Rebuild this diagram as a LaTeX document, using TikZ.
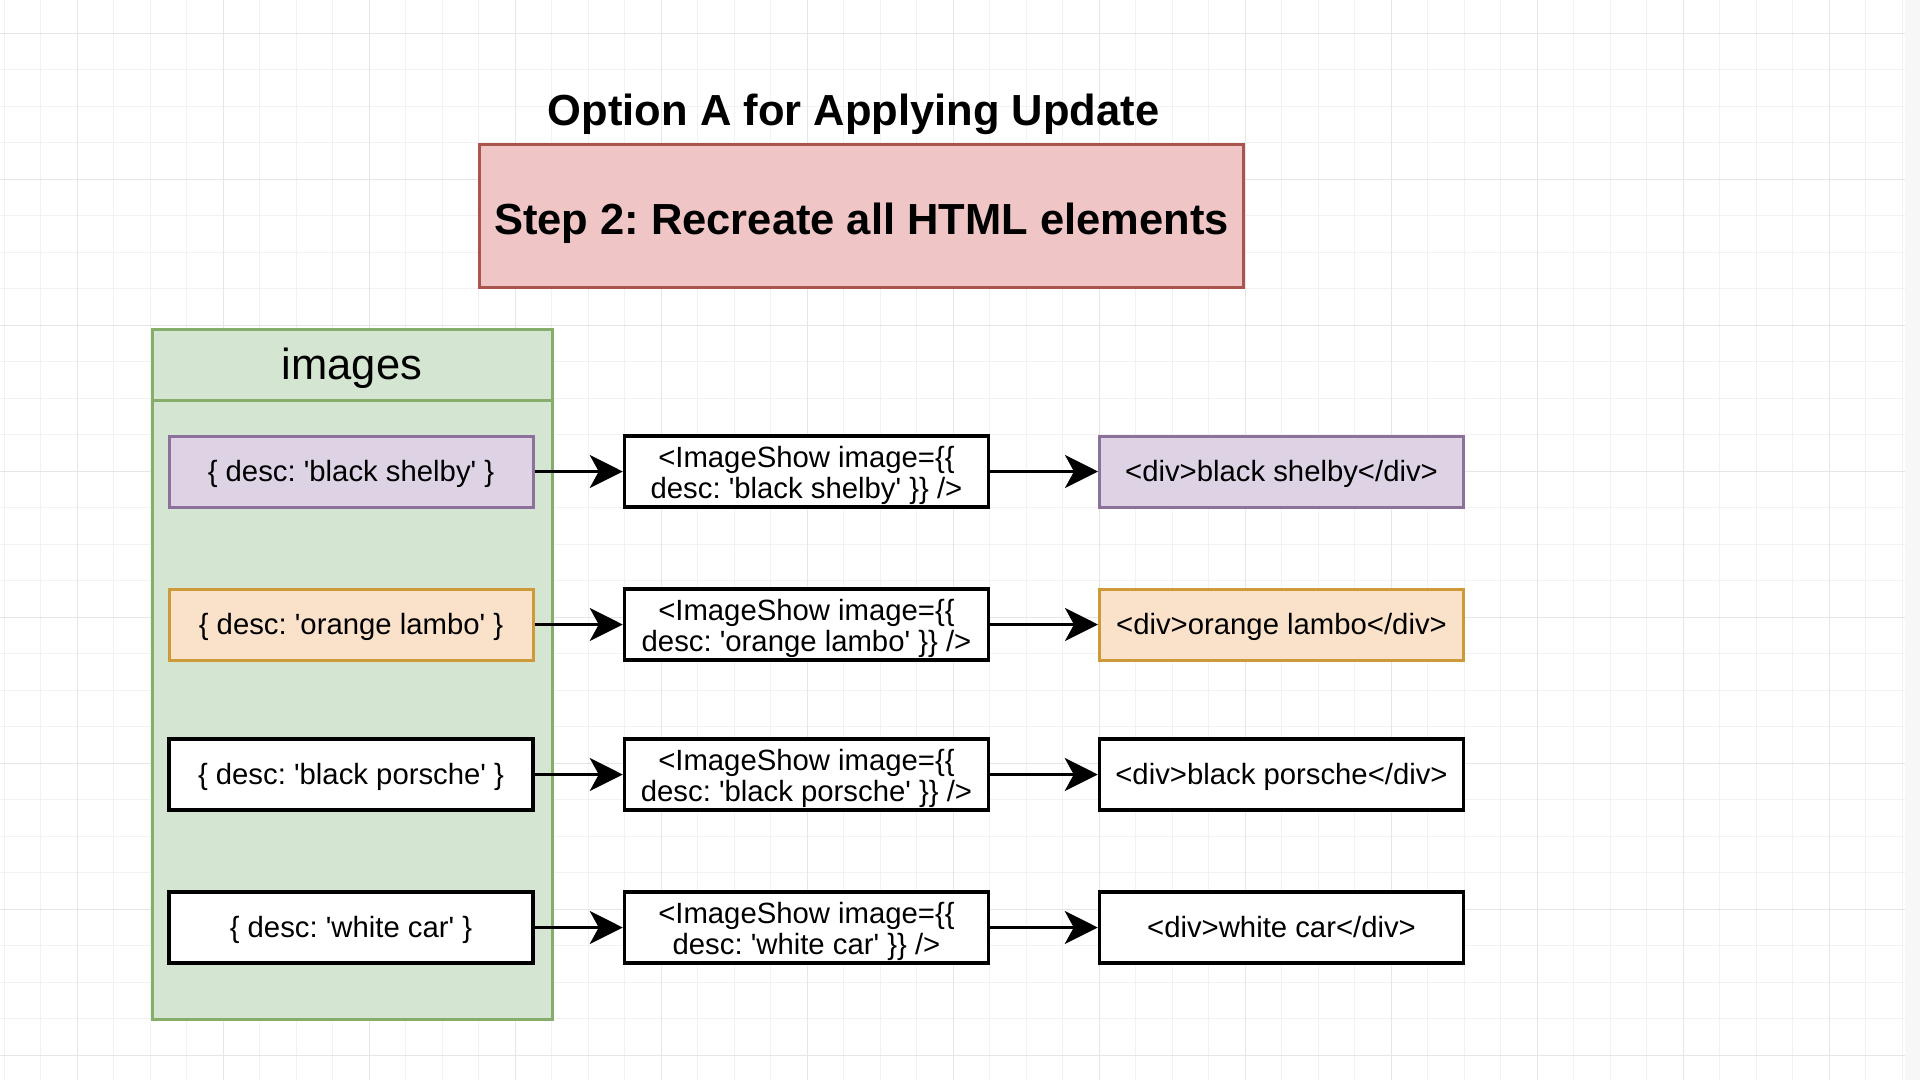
\documentclass[tikz,border=0pt]{standalone}
\usepackage{fontspec}
\setmainfont{Liberation Sans}[Ligatures=TeXOff]
\usetikzlibrary{arrows.meta}
\frenchspacing
\definecolor{gridminor}{HTML}{F2F2F2}
\definecolor{gridmajor}{HTML}{E6E6E6}
\definecolor{redF}{HTML}{EFC6C5}
\definecolor{redS}{HTML}{AA544E}
\definecolor{greenF}{HTML}{D4E6D1}
\definecolor{greenS}{HTML}{86AE6A}
\definecolor{purpF}{HTML}{DDD3E5}
\definecolor{purpS}{HTML}{8D719D}
\definecolor{oranF}{HTML}{FAE2CA}
\definecolor{oranS}{HTML}{CE9938}
\tikzset{
  bigfont/.style={font=\frenchspacing\fontsize{43.5}{50}\selectfont},
  boldbig/.style={font=\frenchspacing\bfseries\fontsize{43.5}{50}\selectfont},
  cell/.style={draw, line width=3pt, minimum width=364pt, minimum height=71pt,
    inner sep=0pt, align=center, font=\frenchspacing\fontsize{29.3}{31}\selectfont},
  oneline/.style={text height=26.5pt, text depth=6.2pt},
  twoline/.style={text height=60pt, text depth=6pt},
  plaincell/.style={cell, draw=black, fill=white, line width=3.5pt},
  purpcell/.style={cell, draw=purpS, fill=purpF},
  orancell/.style={cell, draw=oranS, fill=oranF},
  conn/.style={line width=3.3pt, -{Stealth[length=33pt, width=33pt, inset=9pt]}},
}
\begin{document}
\begin{tikzpicture}[x=1pt,y=-1pt]
\useasboundingbox (0,0) rectangle (1920,1080);
\fill[white] (0,0) rectangle (1920,1080);
% background grid
\foreach \k in {-6,...,46} {\draw[gridminor, line width=1pt] ({223+36.5*\k},0) -- ({223+36.5*\k},1080);}
\foreach \k in {-4,...,24} {\draw[gridminor, line width=1pt] (0,{179+36.5*\k}) -- (1905,{179+36.5*\k});}
\foreach \m in {-1,...,11} {\draw[gridmajor, line width=1pt] ({223+146*\m},0) -- ({223+146*\m},1080);}
\foreach \m in {-1,...,6} {\draw[gridmajor, line width=1pt] (0,{179+146*\m}) -- (1905,{179+146*\m});}
\fill[white!97!black] (1905,0) rectangle (1920,1080);

% title and step box
\node[boldbig, anchor=base] (title) at (853.5,125) {Option A for Applying Update};
\node[draw=redS, fill=redF, line width=3pt, minimum width=764pt, minimum height=143pt,
      inner sep=0pt, boldbig, text height=37pt, text depth=0pt] (step) at (861.5,216)
      {Step 2: Recreate all HTML elements};

% images container
\node[draw=greenS, fill=greenF, line width=3pt, minimum width=400pt, minimum height=690pt,
      inner sep=0pt, anchor=north west] (cont) at (150.5,327.5) {};
\node[draw=greenS, fill=greenF, line width=3pt, minimum width=400pt, minimum height=71pt,
      inner sep=0pt, anchor=north west, bigfont, text height=36pt, text depth=6pt] (hdr) at (150.5,327.5) {images};

% row 1
\node[purpcell, oneline] (l1) at (351,471.5) {\{ desc: 'black shelby' \}};
\node[plaincell, twoline] (m1) at (806.5,471.5) {<ImageShow image=\{\{\\desc: 'black shelby' \}\} />};
\node[purpcell, oneline] (r1) at (1281.5,471.5) {<div>black shelby</div>};
% row 2
\node[orancell, oneline] (l2) at (351,624.5) {\{ desc: 'orange lambo' \}};
\node[plaincell, twoline] (m2) at (806.5,624.5) {<ImageShow image=\{\{\\desc: 'orange lambo' \}\} />};
\node[orancell, oneline] (r2) at (1281.5,624.5) {<div>orange lambo</div>};
% row 3
\node[plaincell, oneline] (l3) at (351,774.5) {\{ desc: 'black porsche' \}};
\node[plaincell, twoline] (m3) at (806.5,774.5) {<ImageShow image=\{\{\\desc: 'black porsche' \}\} />};
\node[plaincell, oneline] (r3) at (1281.5,774.5) {<div>black porsche</div>};
% row 4
\node[plaincell, oneline] (l4) at (351,927.5) {\{ desc: 'white car' \}};
\node[plaincell, twoline] (m4) at (806.5,927.5) {<ImageShow image=\{\{\\desc: 'white car' \}\} />};
\node[plaincell, oneline] (r4) at (1281.5,927.5) {<div>white car</div>};

% connectors
\foreach \i in {1,2,3,4} {
  \draw[conn] (l\i.east) -- (m\i.west);
  \draw[conn] (m\i.east) -- (r\i.west);
}
\end{tikzpicture}
\end{document}
